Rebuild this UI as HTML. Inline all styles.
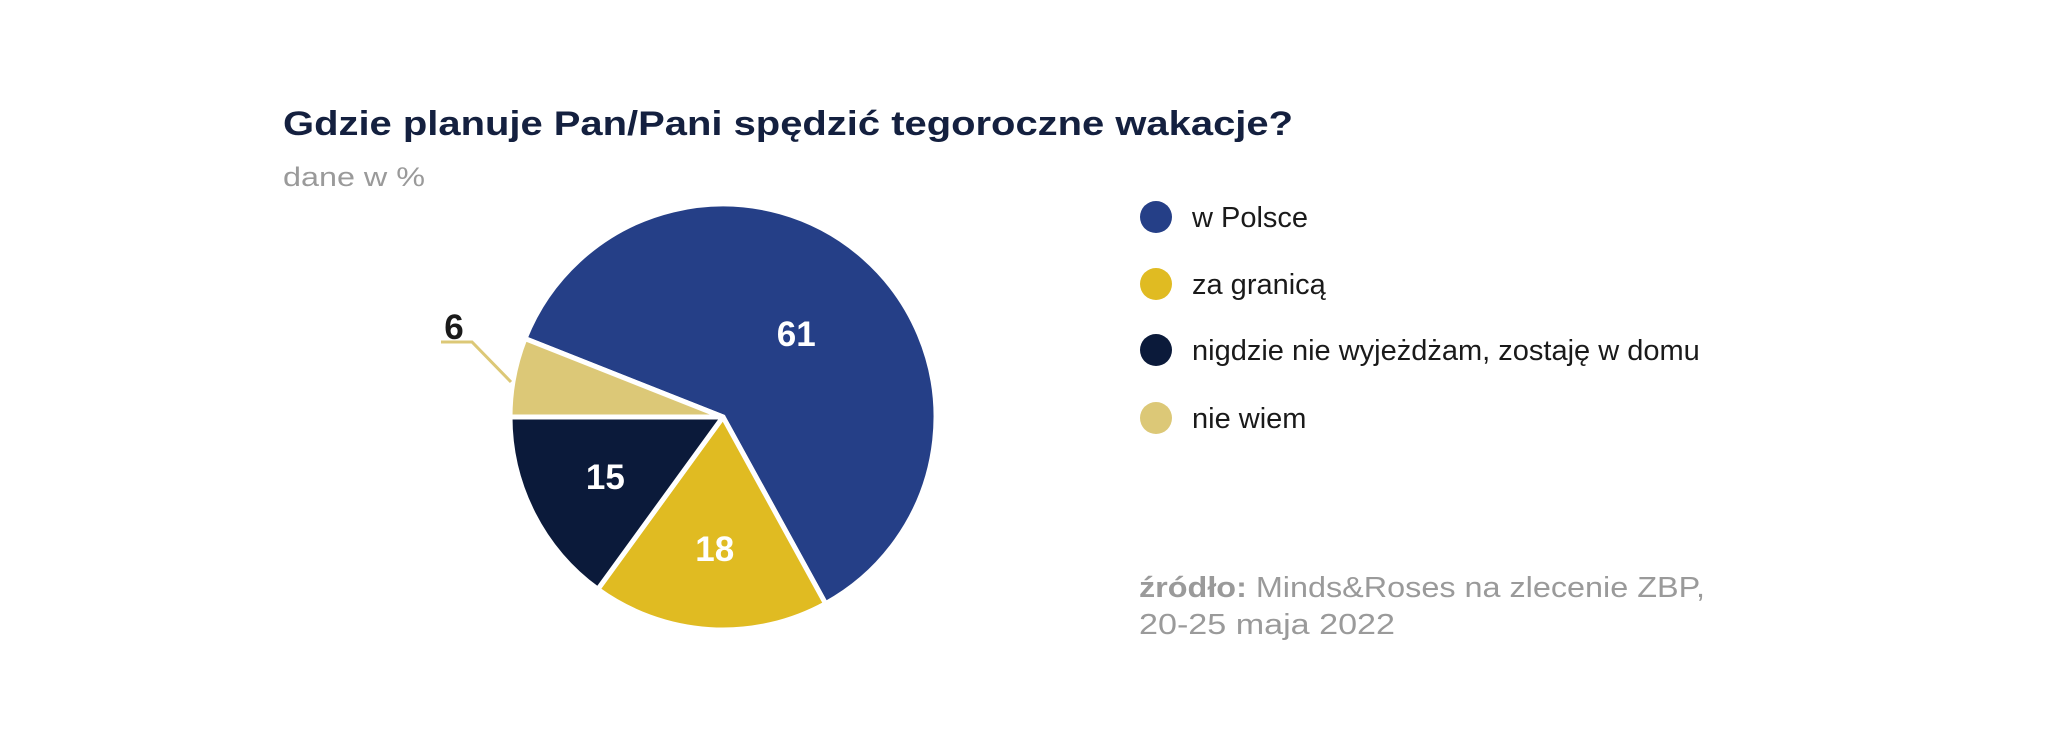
<!DOCTYPE html>
<html><head><meta charset="utf-8"><style>
html,body{margin:0;padding:0;background:#fff;width:2048px;height:747px;overflow:hidden}
svg{display:block;font-family:"Liberation Sans",sans-serif}
</style></head><body>
<svg width="2048" height="747" viewBox="0 0 2048 747">
<text x="283" y="135" font-size="34" font-weight="bold" fill="#14203f" textLength="1010" lengthAdjust="spacingAndGlyphs">Gdzie planuje Pan/Pani spędzić tegoroczne wakacje?</text>
<text x="283" y="186" font-size="27" fill="#9a9a9a" textLength="142" lengthAdjust="spacingAndGlyphs">dane w %</text>
<g id="slices"></g>
<g id="labels"></g>
<polyline points="441,342 472,342 511,382" fill="none" stroke="#dcc877" stroke-width="3"/>
<g id="legend"></g>
<text x="1139" y="597" font-size="29" fill="#9a9a9a" textLength="566" lengthAdjust="spacingAndGlyphs"><tspan font-weight="bold">źródło:</tspan> Minds&amp;Roses na zlecenie ZBP,</text>
<text x="1139" y="634" font-size="29" fill="#9a9a9a" textLength="256" lengthAdjust="spacingAndGlyphs">20-25 maja 2022</text>
</svg>
<script>
const categories = ["w Polsce", "za granicą", "nigdzie nie wyjeżdżam, zostaję w domu", "nie wiem"];
const values = [61, 18, 15, 6];
const colors = ["#253f87", "#e0bb22", "#0b1a3a", "#dcc877"];
const NS = "http://www.w3.org/2000/svg";
const cx = 723, cy = 417, r = 213;
const total = values.reduce((a,b)=>a+b,0);
// order clockwise starting at beige (last) from 180deg
let ang = 180 + values[3]/total*360; // blue starts here
const slicesG = document.getElementById('slices');
const labelsG = document.getElementById('labels');
const startAngles = [];
let a = ang;
for (let i=0;i<3;i++){ startAngles[i]=a; a+=values[i]/total*360; }
startAngles[3]=a;
function pt(deg, rad){ const t=deg*Math.PI/180; return [cx+rad*Math.cos(t), cy+rad*Math.sin(t)]; }
const slug = ["w-polsce","za-granica","nigdzie","nie-wiem"];
for (let i=0;i<4;i++){
  const s=startAngles[i], e=s+values[i]/total*360;
  const p1=pt(s,r), p2=pt(e,r);
  const large = (e-s)>180?1:0;
  const path=document.createElementNS(NS,'path');
  path.setAttribute('d',`M${cx},${cy} L${p1[0]},${p1[1]} A${r},${r} 0 ${large} 1 ${p2[0]},${p2[1]} Z`);
  path.setAttribute('fill',colors[i]);
  path.setAttribute('stroke','#fff');
  path.setAttribute('stroke-width','5');
  path.setAttribute('stroke-linejoin','round');
  
  
  slicesG.appendChild(path);
  const mid=(s+e)/2;
  let lp, fill='#fff';
  if (i===3){ lp=[454,327]; fill='#1a1a1a'; }
  else { const rr = i===0?0.52:0.62; lp=pt(mid,r*rr); }
  const t=document.createElementNS(NS,'text');
  t.setAttribute('x',lp[0]); t.setAttribute('y',lp[1]+12);
  t.setAttribute('text-anchor','middle');
  t.setAttribute('font-size','35'); t.setAttribute('font-weight','bold');
  t.setAttribute('fill',fill);
  t.textContent=values[i];
  
  
  labelsG.appendChild(t);
}
const legendG=document.getElementById('legend');
const rowsY=[217,284,350,418];
for (let i=0;i<4;i++){
  const c=document.createElementNS(NS,'circle');
  c.setAttribute('cx',1156); c.setAttribute('cy',rowsY[i]); c.setAttribute('r',16);
  c.setAttribute('fill',colors[i]);
  
  
  legendG.appendChild(c);
  const t=document.createElementNS(NS,'text');
  t.setAttribute('x',1192); t.setAttribute('y',rowsY[i]+10);
  t.setAttribute('font-size','29'); t.setAttribute('fill','#1a1a1a');
  t.textContent=categories[i];
  
  
  legendG.appendChild(t);
}
</script>
</body></html>
